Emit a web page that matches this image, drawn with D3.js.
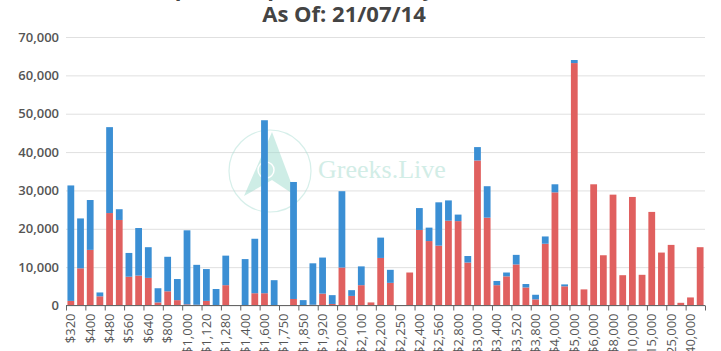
<!DOCTYPE html>
<html lang="en">
<head>
    <meta charset="UTF-8">
    <title>ETH Options Open Interest</title>
    <script src="https://d3js.org/d3.v7.min.js"></script>
    <style>
        body { margin: 0; background: #fff; }
        svg { display: block; font-family: "Open Sans", sans-serif; }
    </style>
    <script>
        // strike prices (every category, only every other one is labelled)
        const STRIKES = ["$320", "$360", "$400", "$440", "$480", "$520", "$560", "$600", "$640", "$720",
            "$800", "$880", "$1,000", "$1,040", "$1,120", "$1,200", "$1,280", "$1,360", "$1,400", "$1,500",
            "$1,600", "$1,700", "$1,750", "$1,800", "$1,850", "$1,900", "$1,920", "$1,950", "$2,000", "$2,050",
            "$2,100", "$2,150", "$2,200", "$2,240", "$2,250", "$2,300", "$2,400", "$2,500", "$2,560", "$2,600",
            "$2,800", "$2,900", "$3,000", "$3,200", "$3,400", "$3,500", "$3,520", "$3,600", "$3,800", "$3,840",
            "$4,000", "$4,400", "$5,000", "$5,500", "$6,000", "$7,000", "$8,000", "$9,000", "$10,000", "$12,000",
            "$15,000", "$20,000", "$25,000", "$30,000", "$40,000", "$50,000"];

        // red series (bottom of the stack)
        const RED = [1200, 9700, 14500, 2400, 24100, 22300, 7500, 7800, 7200, 800,
            3700, 1400, 300, 200, 1200, 100, 5300, 0, 100, 3200,
            3200, 0, 0, 1700, 0, 200, 3100, 400, 9900, 2500,
            5300, 800, 12400, 5900, 0, 8600, 19700, 16800, 15600, 22100,
            22000, 11200, 37800, 22900, 5300, 7600, 10700, 4700, 1600, 16100,
            29500, 5000, 63200, 4200, 31600, 13100, 28900, 7900, 28300, 8000,
            24400, 13800, 15800, 700, 2100, 15200];

        // blue series (top of the stack)
        const BLUE = [30100, 13000, 13000, 1000, 22400, 2800, 6200, 12400, 8000, 3700,
            9000, 5500, 19300, 10400, 8300, 4200, 7700, 0, 12000, 14200,
            45100, 6600, 0, 30500, 1400, 10800, 9400, 2300, 19900, 1500,
            4900, 0, 5300, 3400, 0, 0, 5700, 3500, 11300, 5300,
            1700, 1700, 3500, 8200, 1100, 1000, 2500, 900, 1200, 1900,
            2100, 500, 800, 0, 0, 0, 0, 0, 0, 0,
            0, 0, 0, 0, 0, 0];

        const Y_TICKS = [0, 10000, 20000, 30000, 40000, 50000, 60000, 70000];

        document.addEventListener("DOMContentLoaded", function() {
            drawChart();
        });

        function drawChart() {
            const width = 721, height = 351;
            const margin = {top: 37, right: 16, bottom: 46, left: 66};
            const svg = d3.select("svg").attr("width", width).attr("height", height);

            const rows = STRIKES.map((s, i) => ({strike: s, red: RED[i], blue: BLUE[i]}));
            const series = d3.stack().keys(["red", "blue"])(rows);

            const x = d3.scaleBand()
                .domain(STRIKES)
                .range([margin.left, width - margin.right])
                .paddingInner(0.3)
                .paddingOuter(0.15);
            const y = d3.scaleLinear()
                .domain([0, 70000])
                .range([height - margin.bottom + 0.5, margin.top]);

            // title (first line sits mostly above the window)
            const title = svg.append("g").attr("fill", "#444").attr("font-weight", 700)
                .attr("font-size", "22px").attr("text-anchor", "middle");
            title.append("text").attr("x", 338).attr("y", -4).text("ETH Options Open Interest By Strike Price");
            title.append("text").attr("x", 344).attr("y", 22).text("As Of: 21/07/14");

            // grid + y labels
            const yAxis = svg.append("g")
                .attr("transform", "translate(" + margin.left + ",0)")
                .call(d3.axisLeft(y).tickValues(Y_TICKS).tickFormat(d3.format(",")).tickSize(-(width - margin.left - margin.right)).tickPadding(7));
            yAxis.select(".domain").remove();
            yAxis.selectAll(".tick line").attr("stroke", "#e0e0e0");
            yAxis.selectAll(".tick text").attr("fill", "#555").style("font-size", "13px").style("font-weight", 600)
                .style("font-family", "Open Sans");

            // watermark
            const wm = svg.append("g").attr("opacity", 0.5);
            wm.append("circle").attr("cx", 270).attr("cy", 171).attr("r", 41)
                .attr("fill", "none").attr("stroke", "#aee0d6").attr("stroke-width", 1.2);
            wm.append("path").attr("d", "M272,132 L296,196 L272,180 L244,196 Z").attr("fill", "#9fdccf");
            wm.append("circle").attr("cx", 266).attr("cy", 170).attr("r", 8)
                .attr("fill", "none").attr("stroke", "#fff").attr("stroke-width", 1.5);
            wm.append("text").attr("x", 318).attr("y", 178)
                .attr("font-family", "Liberation Serif, DejaVu Serif, serif").attr("font-size", "26px")
                .attr("fill", "#a6dccf").text("Greeks.Live");

            // bars
            const colors = {red: "#e0605f", blue: "#3b8fd4"};
            svg.append("g").selectAll("g")
                .data(series)
                .enter().append("g")
                .attr("fill", d => colors[d.key])
                .selectAll("rect")
                .data(d => d)
                .enter().append("rect")
                .attr("x", d => x(d.data.strike))
                .attr("width", x.bandwidth())
                .attr("y", d => y(d[1]))
                .attr("height", d => y(d[0]) - y(d[1]));

            // x axis: ticks every two categories, labels on even categories
            const base = height - margin.bottom + 0.5;
            const xg = svg.append("g");
            xg.append("line").attr("x1", margin.left).attr("x2", width - margin.right)
                .attr("y1", base).attr("y2", base).attr("stroke", "#666");
            const step = x.step();
            const tickIdx = d3.range(0, STRIKES.length + 1, 2);
            xg.selectAll("line.tk").data(tickIdx).enter().append("line").attr("class", "tk")
                .attr("x1", i => x.range()[0] + i * step + 0.5)
                .attr("x2", i => x.range()[0] + i * step + 0.5)
                .attr("y1", base).attr("y2", base + 5).attr("stroke", "#666");
            xg.selectAll("text").data(STRIKES.filter((s, i) => i % 2 === 0)).enter().append("text")
                .attr("transform", d => "translate(" + (x(d) + x.bandwidth() / 2 + 4.5) + "," + (base + 8) + ") rotate(-90)")
                .attr("text-anchor", "end")
                .attr("fill", "#555").attr("font-size", "13px")
                .text(d => d);
        }
    </script>
</head>
<body>
    <svg id="chart"></svg>
</body>
</html>
